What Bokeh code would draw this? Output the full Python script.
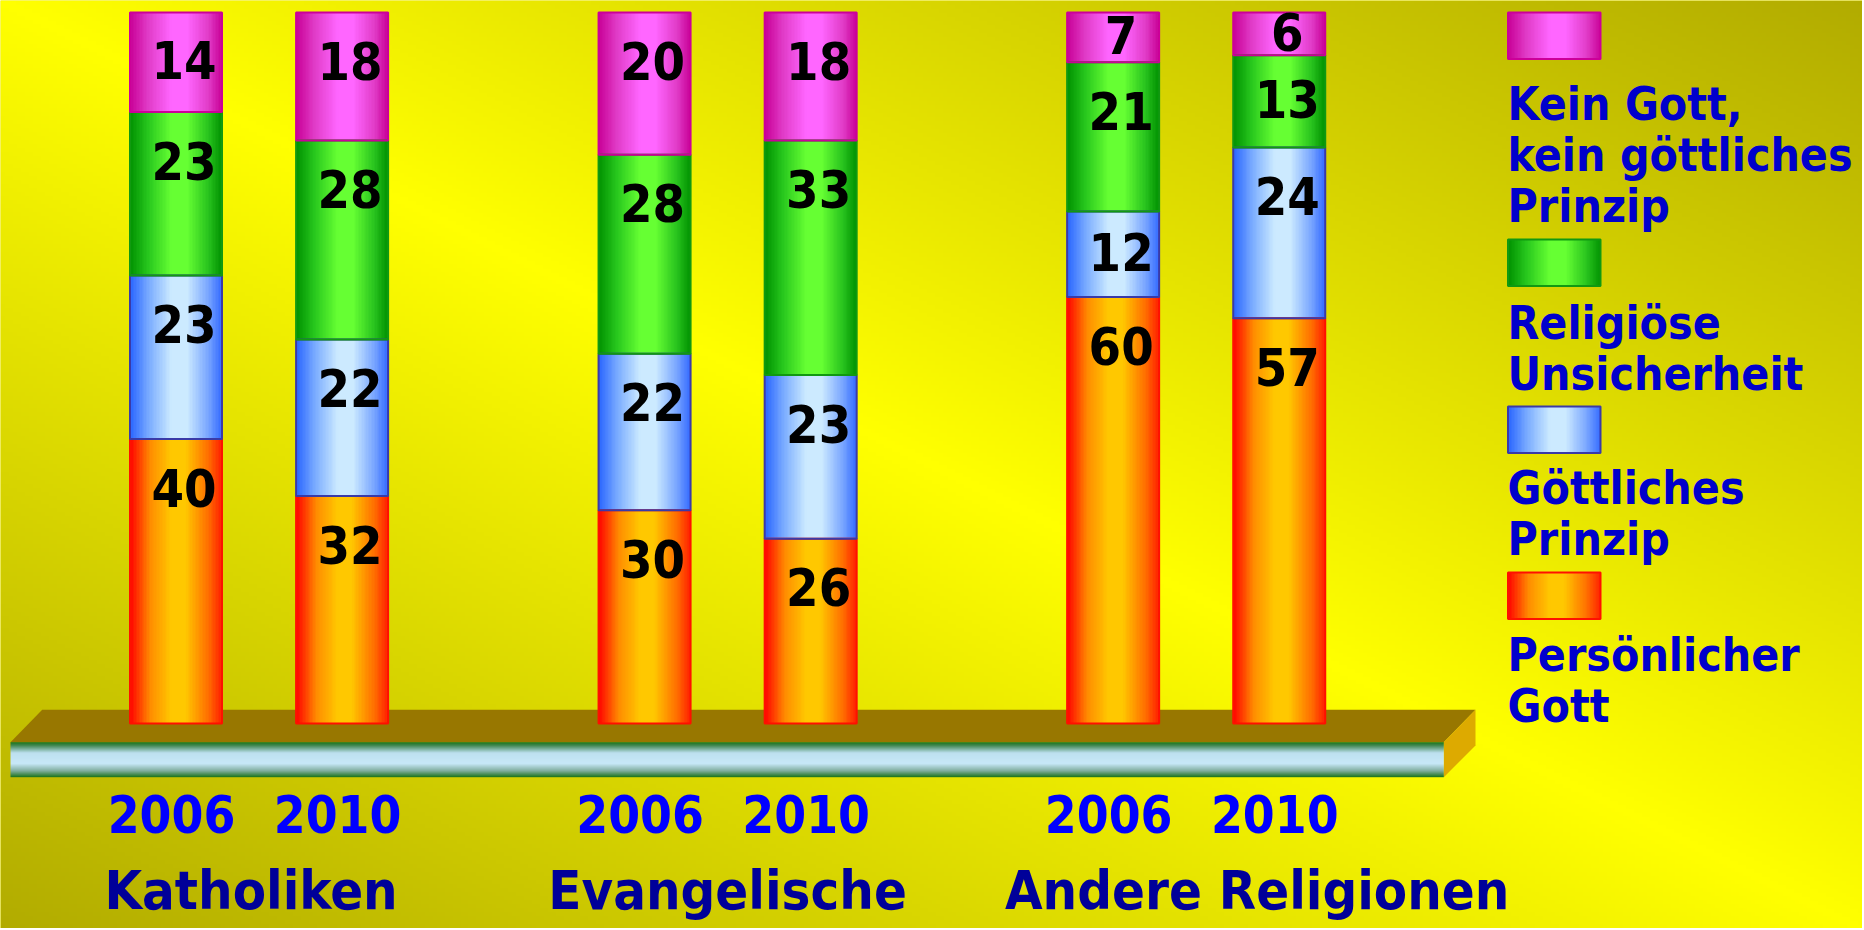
import numpy as np
from bokeh.plotting import figure
from bokeh.models import Range1d, ColumnDataSource
from bokeh.embed import file_html
from bokeh.resources import INLINE
from bokeh.core.properties import value

# ------------------------------------------------------------------ data
groups = ["Katholiken", "Evangelische", "Andere Religionen"]
years = ["2006", "2010"]
# one value per (group, year) bar, in the order K2006, K2010, E2006, E2010, A2006, A2010
persoenlicher_gott = [40, 32, 30, 26, 60, 57]
goettliches_prinzip = [23, 22, 22, 23, 12, 24]
religioese_unsicherheit = [23, 28, 28, 33, 21, 13]
kein_gott = [14, 18, 20, 18, 7, 6]
series_keys = ["persoenlicher_gott", "goettliches_prinzip", "religioese_unsicherheit", "kein_gott"]
series_values = [persoenlicher_gott, goettliches_prinzip, religioese_unsicherheit, kein_gott]
# legend, from top to bottom (reverse of the stacking order)
legend_labels = ["Kein Gott,\nkein göttliches\nPrinzip", "Religiöse\nUnsicherheit",
                 "Göttliches\nPrinzip", "Persönlicher\nGott"]

# ------------------------------------------------------------------ styles / layout
FONT = value("DejaVu Sans Condensed")
GRADS = [
    [(0.0, (255, 0, 0)), (0.22, (255, 140, 0)), (0.45, (255, 200, 0)), (0.6, (255, 200, 0)), (0.85, (255, 110, 0)), (1.0, (255, 30, 0))],
    [(0.0, (40, 100, 255)), (0.2, (120, 170, 255)), (0.45, (204, 234, 255)), (0.62, (204, 234, 255)), (0.85, (120, 165, 255)), (1.0, (50, 105, 255))],
    [(0.0, (0, 145, 0)), (0.2, (40, 200, 30)), (0.45, (102, 255, 51)), (0.62, (102, 255, 51)), (0.85, (40, 195, 30)), (1.0, (0, 145, 0))],
    [(0.0, (200, 0, 150)), (0.2, (225, 60, 200)), (0.45, (255, 102, 255)), (0.62, (255, 102, 255)), (0.85, (225, 60, 200)), (1.0, (200, 0, 150))],
]
OUTLINES = ["#FF1000", "#3A3AA8", "#119911", "#CC0099"]

W, H = 1862, 928
PAGE = 0                 # page offset: reference pixel -> figure pixel
PXX = 166.1              # pixels per bar slot
PXY = 7.11               # pixels per percentage point
X0 = 175.5 - PAGE        # screen x of the first bar centre
Y0 = 723.0 - PAGE        # screen y of the value 0
GROUP_STRIDE = 2.821     # slots from one group to the next
BAR_W = 0.554
BASE_FIX = 0.41          # em shift so that texts sit on the wanted baseline


def dx(px):
    return (px - PAGE - X0) / PXX


def dy(py):
    return (Y0 - (py - PAGE)) / PXY


def tdy(py, fs):
    return dy(py - BASE_FIX * fs)


def pack(rgb):
    h, w = rgb.shape[:2]
    out = np.empty((h, w), dtype=np.uint32)
    v = out.view(dtype=np.uint8).reshape((h, w, 4))
    v[..., :3] = np.clip(np.round(rgb), 0, 255).astype(np.uint8)
    v[..., 3] = 255
    return out


def ramp(stops, n):
    t = (np.arange(n) + 0.5) / n
    pos = [s[0] for s in stops]
    cols = np.array([s[1] for s in stops], dtype=float)
    return np.stack([np.interp(t, pos, cols[:, c]) for c in range(3)], axis=-1)


def hgrad(stops, n=64):
    row = ramp(stops, n)
    return pack(np.stack([row, row], axis=0))


p = figure(width=W, height=H, x_range=Range1d(dx(PAGE), dx(PAGE + W)),
           y_range=Range1d(dy(PAGE + H), dy(PAGE)),
           output_backend="svg", toolbar_location=None,
           x_axis_location=None, y_axis_location=None, min_border=0)
p.grid.visible = False
p.outline_line_color = None
p.background_fill_color = "#EEEA00"
p.border_fill_color = "#EEEA00"

# ------------------------------------------------------------------ background gradient
Wn, Hn = 466, 232
gx = PAGE + (np.arange(Wn) + 0.5) * W / Wn
gy = PAGE + H - (np.arange(Hn) + 0.5) * H / Hn
GX, GY = np.meshgrid(gx, gy)
dist = np.abs(1864 * GY - 930 * GX) / np.hypot(1864, 930)
t = np.clip(dist / 832.0, 0, 1)
bg = np.stack([255 - 78 * t, 255 - 84 * t, 0 * t], axis=-1)
p.image_rgba(image=[pack(bg)], x=dx(PAGE), y=dy(PAGE + H), dw=W / PXX, dh=H / PXY)

# ------------------------------------------------------------------ floor slab
p.patch(x=[dx(41.7), dx(1475), dx(1443.3), dx(10)], y=[dy(709.3), dy(709.3), dy(741.7), dy(741.7)],
        fill_color="#987700", line_color=None)
p.patch(x=[dx(1443.3), dx(1475), dx(1475), dx(1443.3)], y=[dy(741.7), dy(709.3), dy(745), dy(776.7)],
        fill_color="#DDAA00", line_color=None)
front_stops = [(0.0, (25, 115, 25)), (0.1, (70, 140, 90)), (0.3, (190, 225, 240)), (0.62, (200, 232, 248)),
               (0.82, (130, 175, 160)), (1.0, (25, 115, 25))]
col = ramp(front_stops, 36)[::-1]
front = pack(np.stack([col, col], axis=1))
p.image_rgba(image=[front], x=dx(10), y=dy(776.7), dw=(1443.3 - 10) / PXX, dh=(776.7 - 741.7) / PXY)

# ------------------------------------------------------------------ bars
xs = [gi * GROUP_STRIDE + yi for gi in range(len(groups)) for yi in range(len(years))]
vals = np.array(series_values, dtype=float)
tops = np.cumsum(vals, axis=0)
bottoms = tops - vals

imgs, ix, iy, idw, idh = [], [], [], [], []
for s in range(len(series_values)):
    g = hgrad(GRADS[s])
    for i, x in enumerate(xs):
        imgs.append(g)
        ix.append(x - BAR_W / 2)
        iy.append(bottoms[s, i])
        idw.append(BAR_W)
        idh.append(vals[s, i])
p.image_rgba(image=imgs, x=ix, y=iy, dw=idw, dh=idh)

src = ColumnDataSource(dict(x=xs, **{k: v for k, v in zip(series_keys, series_values)}))
p.vbar_stack(series_keys, x="x", width=BAR_W, source=src, fill_alpha=0,
             line_color=OUTLINES, line_width=2)

# value labels
FS_VAL = 52
lx, ly, lt = [], [], []
for s in range(len(series_values)):
    for i, x in enumerate(xs):
        h_px = vals[s, i] * PXY
        off = min(70.0, 0.5 * h_px + 19.0)
        lx.append(x + 8 / PXX)
        ly.append(tops[s, i] - (off - BASE_FIX * FS_VAL) / PXY)
        lt.append(str(int(vals[s, i])))
p.text(x=lx, y=ly, text=lt, text_font=FONT, text_font_style="bold", text_font_size=f"{FS_VAL}px",
       text_color="black", text_align="center", text_baseline="alphabetic")

# year labels
FS_YEAR = 51
year_text = [y for _ in groups for y in years]
p.text(x=[x - 4.5 / PXX for x in xs], y=[tdy(834, FS_YEAR)] * len(xs), text=year_text, text_font=FONT,
       text_font_style="bold", text_font_size=f"{FS_YEAR}px", text_color="#0000FF",
       text_align="center", text_baseline="alphabetic")

# group labels
FS_GROUP = 54
GROUP_NUDGE = [-8, 0, 61]
gcx = [gi * GROUP_STRIDE + (len(years) - 1) / 2 + GROUP_NUDGE[gi] / PXX for gi in range(len(groups))]
p.text(x=gcx, y=[tdy(912, FS_GROUP)] * len(groups), text=groups, text_font=FONT, text_font_style="bold",
       text_font_size=f"{FS_GROUP}px", text_color="#000099", text_align="center", text_baseline="alphabetic")

# ------------------------------------------------------------------ legend (swatch above its label)
FS_LEG = 46
LEG_TOPS = [12, 239, 406, 572]
LEG_BASE = [122, 341, 506, 673]
LEG_STEP = 51
SW_L, SW_R, SW_H = 1507.5, 1600, 46.4
order = list(range(len(series_values)))[::-1]
limgs, lix, liy, ldw, ldh = [], [], [], [], []
ql, qr, qt, qb, qc = [], [], [], [], []
tx, ty, tt = [], [], []
for k, s in enumerate(order):
    limgs.append(hgrad(GRADS[s]))
    lix.append(dx(SW_L))
    liy.append(dy(LEG_TOPS[k] + SW_H))
    ldw.append((SW_R - SW_L) / PXX)
    ldh.append(SW_H / PXY)
    ql.append(dx(SW_L)); qr.append(dx(SW_R)); qt.append(dy(LEG_TOPS[k])); qb.append(dy(LEG_TOPS[k] + SW_H))
    qc.append(OUTLINES[s])
    for j, line in enumerate(legend_labels[k].split("\n")):
        tx.append(dx(1507))
        ty.append(tdy(LEG_BASE[k] + j * LEG_STEP, FS_LEG))
        tt.append(line)
p.image_rgba(image=limgs, x=lix, y=liy, dw=ldw, dh=ldh)
p.quad(left=ql, right=qr, top=qt, bottom=qb, fill_alpha=0, line_color=qc, line_width=2)
p.text(x=tx, y=ty, text=tt, text_font=FONT, text_font_style="bold", text_font_size=f"{FS_LEG}px",
       text_color="#0000CC", text_align="left", text_baseline="alphabetic")

open("out.html", "w").write(file_html(p, INLINE))
